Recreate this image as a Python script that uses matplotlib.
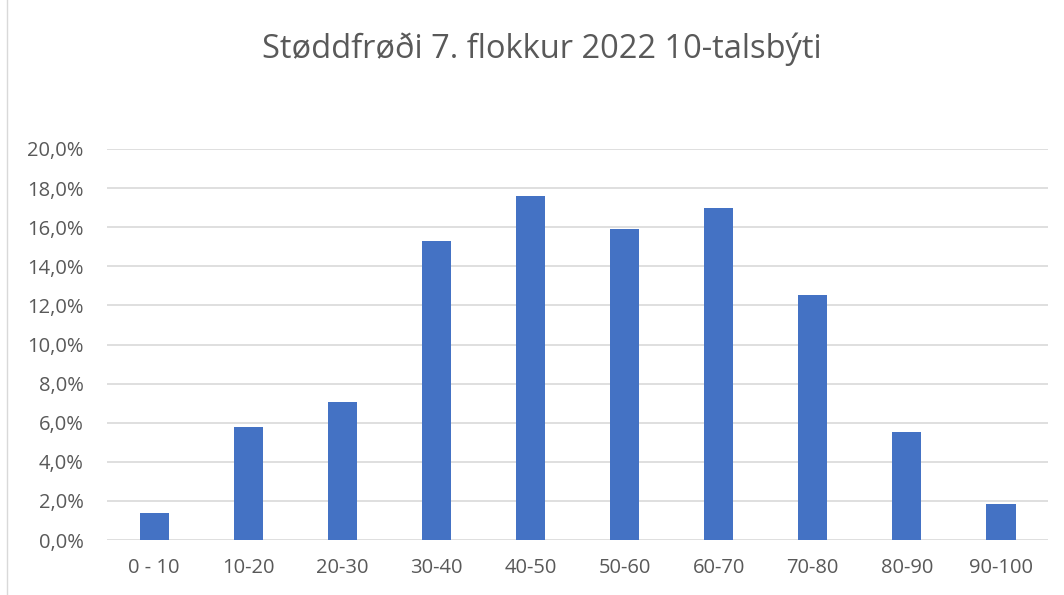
import matplotlib.pyplot as plt
from matplotlib.ticker import FuncFormatter, MultipleLocator
from matplotlib.lines import Line2D

categories = ['0 - 10', '10-20', '20-30', '30-40', '40-50', '50-60', '60-70', '70-80', '80-90', '90-100']
shares = [0.014, 0.058, 0.0705, 0.153, 0.176, 0.159, 0.170, 0.1255, 0.055, 0.0185]

plt.rcParams['font.family'] = ['Open Sans', 'DejaVu Sans']

fig = plt.figure(figsize=(10.64, 5.95), dpi=100)
ax = fig.add_axes([0.1006, 0.0924, 0.8844, 0.6572])

x = range(len(categories))
ax.bar(x, shares, width=0.31, color='#4472C4', zorder=3)

ax.set_xlim(-0.5, len(categories) - 0.5)
ax.set_ylim(0, 0.20)
ax.yaxis.set_major_locator(MultipleLocator(0.02))
ax.yaxis.set_major_formatter(FuncFormatter(lambda v, p: f'{v*100:.1f}%'.replace('.', ',')))
ax.set_xticks(list(x))
ax.set_xticklabels(categories)
ax.grid(axis='y', color='#D9D9D9', linewidth=1.2, zorder=0)
for s in ax.spines.values():
    s.set_visible(False)
ax.tick_params(length=0, colors='#595959', labelsize=14.5)
ax.tick_params(axis='y', pad=17)
ax.tick_params(axis='x', pad=13)

# chart title, centred over the whole chart area
fig.text(0.509, 0.917, 'Støddfrøði 7. flokkur 2022 10-talsbýti', ha='center', va='center',
         fontsize=23.5, color='#595959')
fig.add_artist(Line2D([7 / 1064, 7 / 1064], [0, 1], color='#D9D9D9', linewidth=1))

fig.savefig('out.png', dpi=100)
